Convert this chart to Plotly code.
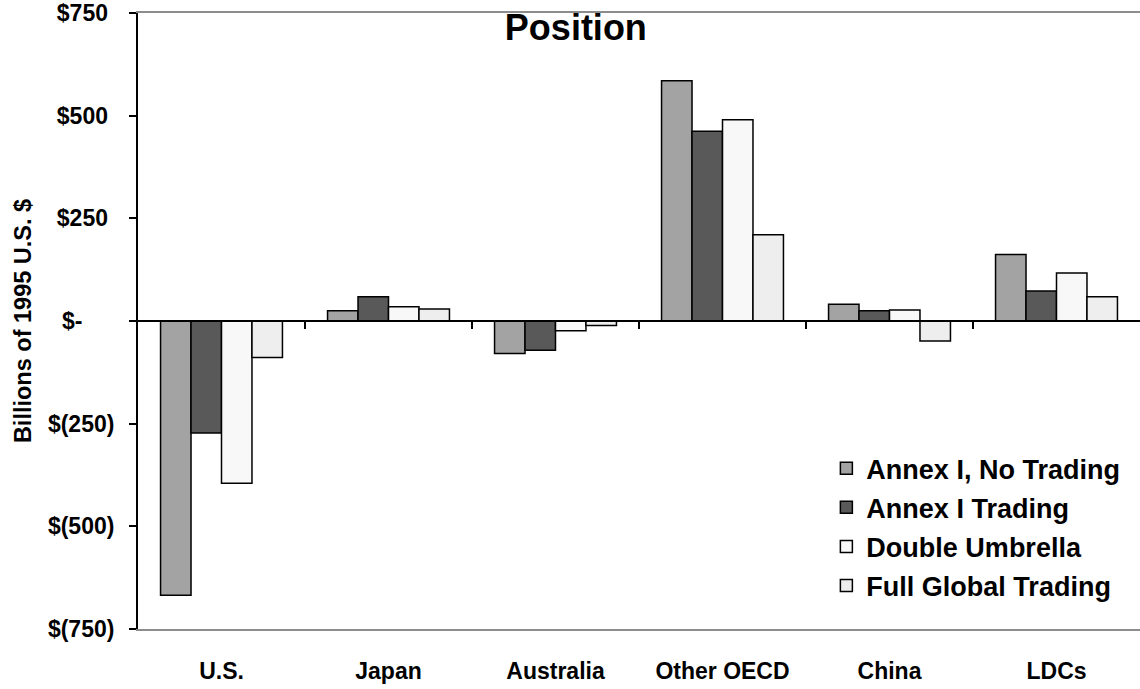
import plotly.graph_objects as go

# Regions and scenarios (billions of 1995 U.S. dollars)
regions = ["U.S.", "Japan", "Australia", "Other OECD", "China", "LDCs"]
annex_no_trading = [-668, 25, -79, 585, 41, 162]
annex_trading = [-273, 59, -71, 462, 25, 73]
double_umbrella = [-395, 35, -24, 490, 27, 117]
full_global = [-89, 29, -11, 210, -49, 59]

series_names = ["Annex I, No Trading", "Annex I Trading", "Double Umbrella", "Full Global Trading"]
series_values = [annex_no_trading, annex_trading, double_umbrella, full_global]
series_colors = ["#A3A3A3", "#595959", "#F8F8F8", "#EEEEEE"]

y_tickvals = [-750, -500, -250, 0, 250, 500, 750]
y_ticktext = ["$(750)", "$(500)", "$(250)", "$-\u00a0\u00a0\u00a0\u00a0\u00a0",
              "$250\u00a0", "$500\u00a0", "$750\u00a0"]

FONT = "Liberation Sans, Arial, sans-serif"

fig = go.Figure()
for i, (name, vals, col) in enumerate(zip(series_names, series_values, series_colors)):
    fig.add_trace(go.Bar(
        x=regions, y=vals, name=name,
        marker=dict(color=col, line=dict(color="#000000", width=1.5)),
        legendgroup=f"g{i}",
    ))

# empty trace that carries the zero-line axis with category-boundary ticks
fig.add_trace(go.Scatter(x=[], y=[], xaxis="x2", showlegend=False, hoverinfo="skip"))

fig.update_layout(
    width=1140, height=689,
    margin=dict(l=138, r=0, t=11, b=60),
    paper_bgcolor="white", plot_bgcolor="white",
    barmode="group", bargap=0.27, bargroupgap=0,
    font=dict(family=FONT, size=23, color="#000000", weight="bold"),
    title=dict(text="Position", x=0.437, xref="paper", xanchor="center",
               y=1 - 27 / 689, yref="container", yanchor="middle",
               font=dict(family=FONT, size=36, color="#000000", weight="bold")),
    xaxis=dict(
        type="category", showgrid=False, zeroline=False,
        showline=True, linecolor="#8C8C8C", linewidth=2, mirror=True,
        ticks="", ticklabelstandoff=20,
        tickfont=dict(family=FONT, size=23, weight="bold"),
    ),
    xaxis2=dict(
        overlaying="x", anchor="free", position=0.5, type="linear",
        range=[-0.5, 5.5], tickvals=[0.5, 1.5, 2.5, 3.5, 4.5],
        ticks="outside", ticklen=7, tickwidth=1.5, tickcolor="#000000",
        showticklabels=False, showgrid=False, zeroline=False,
        showline=True, linecolor="#000000", linewidth=1.5,
    ),
    yaxis=dict(
        range=[-750, 750], tickvals=y_tickvals, ticktext=y_ticktext,
        showgrid=False, zeroline=False,
        showline=True, linecolor="#000000", linewidth=2,
        ticks="outside", ticklen=7, tickwidth=1.5, tickcolor="#000000",
        ticklabelstandoff=10, ticklabeloverflow="allow",
        tickfont=dict(family=FONT, size=23, weight="bold"),
        title=dict(text="Billions of 1995 U.S. $", standoff=10,
                   font=dict(family=FONT, size=23.5, weight="bold")),
    ),
    legend=dict(
        x=0.687, y=0.30, xanchor="left", yanchor="top",
        bgcolor="rgba(0,0,0,0)", borderwidth=0,
        font=dict(family=FONT, size=27, weight="bold"),
        tracegroupgap=1, itemwidth=30,
    ),
    showlegend=True,
)

fig.write_html("out.html")
